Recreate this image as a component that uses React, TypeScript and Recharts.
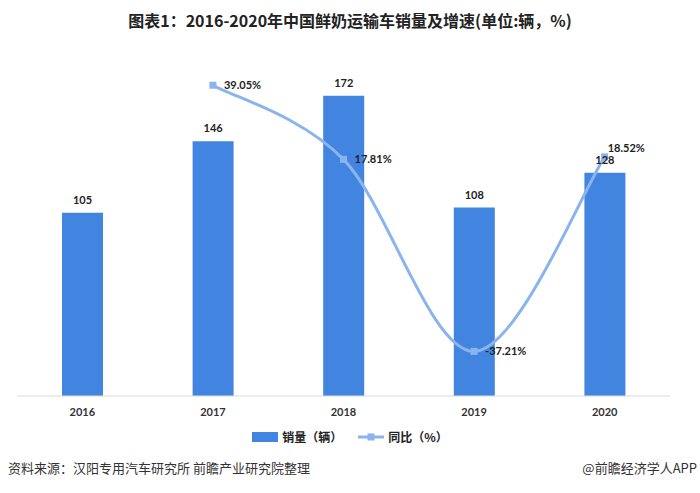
import React from 'react';
import { ComposedChart, Bar, Line, XAxis, YAxis, LabelList } from 'recharts';

const years = ['2016', '2017', '2018', '2019', '2020'];
const sales = [105, 146, 172, 108, 128];
const yoy: (number | null)[] = [null, 39.05, 17.81, -37.21, 18.52];

const data = years.map((y, i) => ({ year: y, sales: sales[i], yoy: yoy[i] }));

const BAR = '#4285e0';
const LINE = '#8cb4ec';
const NUM_FONT = 'Lato, "Noto Sans CJK SC", sans-serif';
const CJK_FONT = '"Noto Sans CJK SC", sans-serif';

// Catmull-Rom style smoothing (similar to spreadsheet "smoothed line")
const smoothCurve = (context: any) => {
  let pts: number[][] = [];
  return {
    areaStart() {},
    areaEnd() {},
    lineStart() {
      pts = [];
    },
    point(x: number, y: number) {
      pts.push([+x, +y]);
    },
    lineEnd() {
      const n = pts.length;
      if (n === 0) return;
      context.moveTo(pts[0][0], pts[0][1]);
      if (n === 1) return;
      for (let i = 0; i < n - 1; i++) {
        const p0 = pts[Math.max(0, i - 1)];
        const p1 = pts[i];
        const p2 = pts[i + 1];
        const p3 = pts[Math.min(n - 1, i + 2)];
        const c1x = p1[0] + (p2[0] - p0[0]) / 6;
        const c1y = p1[1] + (p2[1] - p0[1]) / 6;
        const c2x = p2[0] - (p3[0] - p1[0]) / 6;
        const c2y = p2[1] - (p3[1] - p1[1]) / 6;
        context.bezierCurveTo(c1x, c1y, c2x, c2y, p2[0], p2[1]);
      }
    },
  };
};

const YoyLabel = (props: any) => {
  const { x, y, value, index } = props;
  if (value === null || value === undefined) return null;
  const last = index === years.length - 1;
  return (
    <text
      x={last ? x + 3 : x + 11}
      y={last ? y - 5 : y + 4}
      fontSize={11}
      fontWeight={700}
      fill="#222"
      fontFamily={NUM_FONT}
    >
      {value.toFixed(2)}%
    </text>
  );
};

export default function App() {
  return (
    <div style={{ position: 'absolute', left: 0, top: 0, width: 700, height: 493, background: '#fff' }}>
      <div
        style={{
          position: 'absolute',
          top: 9,
          left: 0,
          width: 700,
          textAlign: 'center',
          fontFamily: CJK_FONT,
          fontWeight: 700,
          fontSize: 16,
          color: '#222',
          lineHeight: '22px',
        }}
      >
        图表1：2016-2020年中国鲜奶运输车销量及增速(单位:辆，%)
      </div>
      <ComposedChart
        width={700}
        height={493}
        data={data}
        margin={{ top: 47, right: 30, left: 17, bottom: 67 }}
      >
        <XAxis
          dataKey="year"
          axisLine={{ stroke: '#d9d9d9', strokeWidth: 1 }}
          tickLine={false}
          tick={{ fontSize: 11, fontWeight: 700, fill: '#333', fontFamily: NUM_FONT }}
          tickMargin={6}
        />
        <YAxis yAxisId="left" hide domain={[0, 200]} />
        <YAxis yAxisId="right" orientation="right" hide domain={[-50, 50]} />
        <Bar yAxisId="left" dataKey="sales" fill={BAR} barSize={41} isAnimationActive={false}>
          <LabelList
            dataKey="sales"
            position="top"
            offset={9}
            style={{ fontSize: 11, fontWeight: 700, fill: '#222', fontFamily: NUM_FONT }}
          />
        </Bar>
        <Line
          yAxisId="right"
          dataKey="yoy"
          type={smoothCurve as any}
          stroke={LINE}
          strokeWidth={3}
          isAnimationActive={false}
          dot={(p: any) =>
            p.value === null || p.value === undefined ? (
              <g key={p.index} />
            ) : (
              <rect key={p.index} x={p.cx - 3.5} y={p.cy - 3.5} width={7} height={7} fill={LINE} />
            )
          }
          activeDot={false}
        >
          <LabelList dataKey="yoy" content={YoyLabel} />
        </Line>
      </ComposedChart>
      <div
        style={{
          position: 'absolute',
          top: 428,
          left: 0,
          width: 700,
          display: 'flex',
          justifyContent: 'center',
          alignItems: 'center',
          fontFamily: CJK_FONT,
          fontSize: 12,
          fontWeight: 700,
          color: '#222',
          lineHeight: '18px',
        }}
      >
        <svg width={26} height={10} style={{ marginRight: 4 }}>
          <rect x={0} y={0} width={26} height={10} fill={BAR} />
        </svg>
        <span>销量（辆）</span>
        <svg width={26} height={10} style={{ marginLeft: 16, marginRight: 4 }}>
          <line x1={0} y1={5} x2={26} y2={5} stroke={LINE} strokeWidth={3} />
          <rect x={9.5} y={1.5} width={7} height={7} fill={LINE} />
        </svg>
        <span>同比（%）</span>
      </div>
      <div
        style={{
          position: 'absolute',
          top: 459,
          left: 8,
          fontFamily: CJK_FONT,
          fontSize: 13,
          color: '#333',
          lineHeight: '18px',
        }}
      >
        资料来源：汉阳专用汽车研究所 前瞻产业研究院整理
      </div>
      <div
        style={{
          position: 'absolute',
          top: 459,
          right: 3,
          fontFamily: CJK_FONT,
          fontSize: 13,
          color: '#333',
          lineHeight: '18px',
        }}
      >
        @前瞻经济学人APP
      </div>
    </div>
  );
}
